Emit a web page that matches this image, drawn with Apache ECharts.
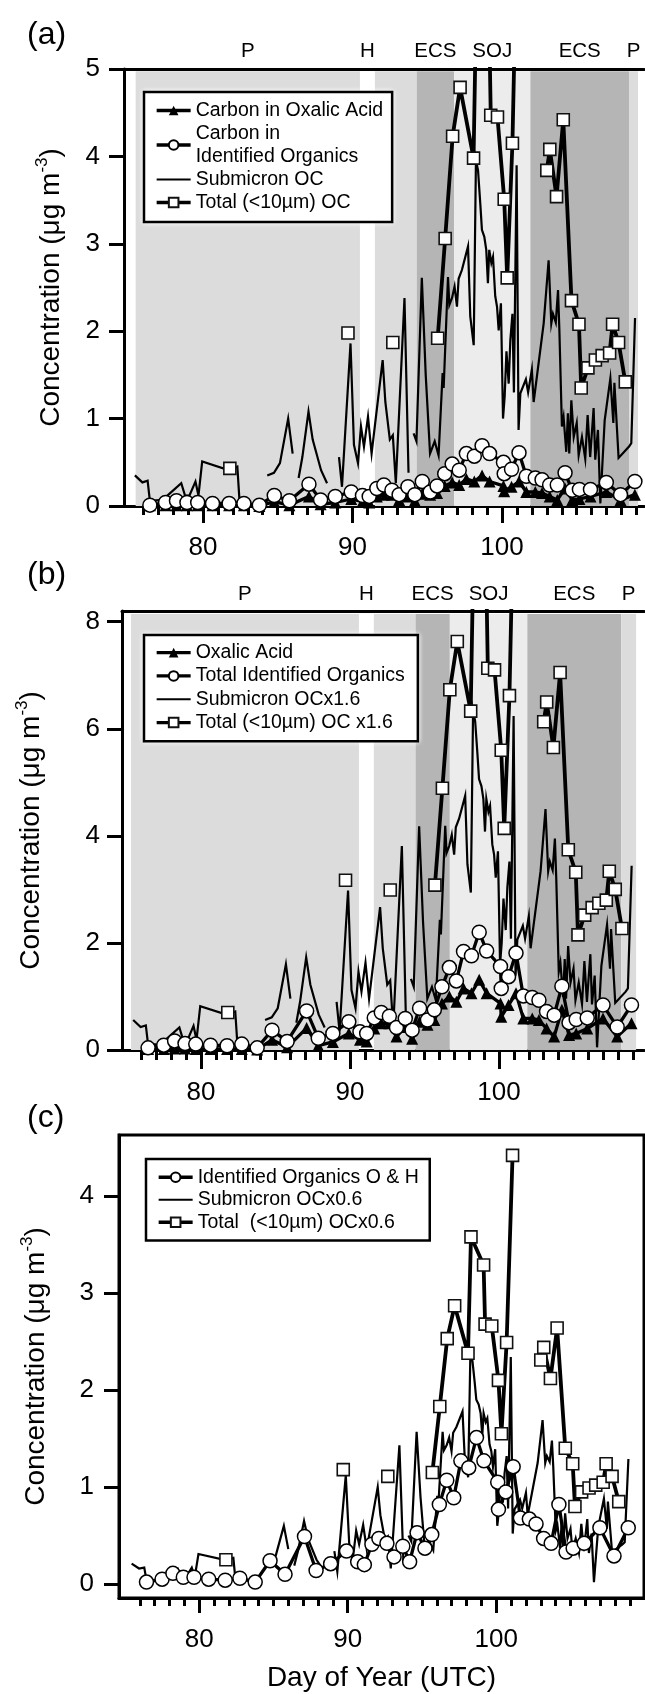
<!DOCTYPE html>
<html><head><meta charset="utf-8">
<script src="https://cdn.jsdelivr.net/npm/echarts@6/dist/echarts.min.js"></script>
<style>html,body{margin:0;padding:0;background:#fff}#c{width:645px;height:1694px}</style>
</head><body><div id="c"></div>
<script>
// ---------------- DATA ----------------
const xMajorTicks = [80, 90, 100];
const xMinorTicks = [76,77,78,79,81,82,83,84,85,86,87,88,89,91,92,93,94,95,96,97,98,99,101,102,103,104,105,106,107,108,109];
const yTicksA = [0,1,2,3,4,5];
const yTicksB = [0,2,4,6,8];
const yTicksC = [0,1,2,3,4];

// ship-track regions
const bandNames = ['P', 'H', '', 'ECS', 'SOJ', 'ECS', 'P'];
const bandKinds = ['pac', 'gap', 'pac', 'ecs', 'soj', 'ecs', 'pac'];
const bandStartA = [75.5, 90.5, 91.5, 94.3, 96.8, 101.9, 108.5];
const bandEndA   = [90.5, 91.5, 94.3, 96.8, 101.9, 108.5, 109.1];
const bandStartB = [75.3, 90.6, 91.6, 94.4, 96.7, 101.9, 108.2];
const bandEndB   = [90.6, 91.6, 94.4, 96.7, 101.9, 108.2, 109.2];

// filter samples (day of year)
const filterDays = [76.45, 77.5, 78.23, 78.93, 79.65, 80.64, 81.75, 82.74, 83.77, 84.77,
  85.78, 87.09, 87.87, 88.85, 89.92, 90.67, 91.12, 91.63, 92.1, 92.64,
  93.12, 93.71, 94.17, 94.67, 95.2, 95.66, 96.17, 96.67, 97.14, 97.62,
  98.15, 98.67, 99.17, 100.1, 100.15, 100.64, 101.14, 101.63, 102.23, 102.68,
  103.19, 103.7, 104.22, 104.7, 105.18, 105.92, 106.98, 107.93, 108.89];
const carbonOxalicA = [0.01,0.01,0.01,0.01,0.01,0.01,0.01,0.01,0.0,0.05,
  0.01,0.11,0.02,0.04,0.08,0.05,0.04,0.11,0.13,0.13,
  0.07,0.11,0.06,0.14,0.13,0.15,0.23,0.27,0.24,0.31,
  0.28,0.35,0.28,0.23,0.17,0.22,0.28,0.16,0.16,0.15,
  0.11,0.07,0.20,0.07,0.08,0.11,0.16,0.07,0.13];
const carbonIdentA = [0.01,0.04,0.06,0.04,0.04,0.03,0.03,0.03,0.01,0.12,
  0.06,0.25,0.07,0.11,0.16,0.12,0.11,0.20,0.24,0.18,
  0.13,0.22,0.13,0.28,0.16,0.23,0.37,0.48,0.41,0.60,
  0.57,0.69,0.60,0.50,0.37,0.42,0.61,0.34,0.32,0.30,
  0.24,0.24,0.38,0.18,0.19,0.19,0.27,0.13,0.28];
const oxalicB = [0.02,0.02,0.03,0.03,0.02,0.02,0.02,0.02,0.01,0.19,
  0.05,0.41,0.08,0.15,0.31,0.19,0.16,0.40,0.50,0.50,
  0.25,0.43,0.21,0.53,0.47,0.56,0.87,1.00,0.90,1.15,
  1.06,1.31,1.06,0.87,0.62,0.84,1.06,0.59,0.59,0.56,
  0.40,0.25,0.75,0.28,0.31,0.40,0.59,0.25,0.50];
const identB = [0.04,0.09,0.17,0.12,0.11,0.09,0.08,0.11,0.04,0.37,
  0.16,0.73,0.22,0.31,0.53,0.34,0.31,0.60,0.70,0.63,
  0.42,0.59,0.37,0.78,0.56,0.75,1.18,1.54,1.29,1.84,
  1.76,2.20,1.85,1.56,1.15,1.37,1.81,1.01,0.98,0.93,
  0.72,0.65,1.19,0.51,0.57,0.60,0.84,0.43,0.84];
const identOHC = [0.02,0.05,0.11,0.07,0.07,0.05,0.04,0.06,0.02,0.24,
  0.10,0.49,0.14,0.21,0.34,0.23,0.20,0.41,0.47,0.42,
  0.28,0.39,0.23,0.53,0.37,0.51,0.82,1.07,0.89,1.27,
  1.20,1.51,1.27,1.05,0.77,0.95,1.21,0.68,0.67,0.62,
  0.47,0.42,0.82,0.33,0.37,0.42,0.58,0.29,0.58];

// total (<10 um) OC samples; null = break in line
const totalDays = [81.8, 85.0, 89.7, 91.0, 92.7, 94.0, 95.7, 96.2, 96.7, 97.2,
  98.1, 98.3, 99.15, 99.25, 99.7, 100.15, 100.35, 100.7, 101.1, 102.0,
  103.0, 103.2, 103.65, 104.1, 104.65, 105.15, 105.3, 105.75, 106.25, 106.7,
  107.2, 107.4, 107.8, 108.25];
const totalOCA = [0.43, null, 1.98, null, 1.87, null, 1.92, 3.06, 4.23, 4.79,
  3.98, 5.97, 5.48, 4.47, 4.45, 3.51, 2.61, 4.15, 7.37, null,
  3.84, 4.08, 3.54, 4.42, 2.35, 2.08, 1.35, 1.58, 1.67, 1.72,
  1.75, 2.08, 1.87, 1.42];
const totalOCB = [0.70, null, 3.17, null, 2.99, null, 3.08, 4.89, 6.73, 7.63,
  6.33, 9.55, 8.77, 7.13, 7.10, 5.60, 4.14, 6.62, 11.8, null,
  6.13, 6.50, 5.65, 7.05, 3.74, 3.32, 2.15, 2.52, 2.66, 2.74,
  2.80, 3.34, 3.00, 2.27];
const totalOCC = [0.25, null, 1.18, null, 1.11, null, 1.15, 1.83, 2.53, 2.87,
  2.38, 3.58, 3.29, 2.68, 2.66, 2.10, 1.55, 2.49, 4.42, null,
  2.31, 2.44, 2.12, 2.64, 1.40, 1.24, 0.80, 0.95, 0.99, 1.02,
  1.05, 1.24, 1.11, 0.85];

// submicron OC (continuous measurement); null = gap
const subDays = [75.45,75.95,76.3,76.45,77.3,78.55,78.8,79.1,79.5,79.7,
  79.95,81.7,82.3,82.45,83.5,84.3,84.75,85.15,85.7,86.0,
  86.2,86.4,86.65,87.06,87.34,87.9,88.3,88.7,89.1,89.3,
  89.87,90.1,90.37,90.57,90.77,91.04,91.28,92.02,92.2,92.3,
  92.5,92.7,92.9,93.48,93.75,93.9,94.09,94.28,94.64,94.9,
  95.19,95.5,95.76,96.03,96.1,96.39,96.48,96.66,96.83,96.99,
  97.1,97.32,97.73,97.88,98.11,98.26,98.4,98.55,98.66,98.82,
  98.95,99.06,99.15,99.29,99.4,99.55,99.67,99.78,99.93,100.07,
  100.18,100.3,100.45,100.56,100.7,100.8,100.98,101.11,101.23,101.6,
  101.75,102.0,102.12,102.79,103.12,103.3,103.41,103.6,103.75,103.84,
  104.01,104.12,104.3,104.41,104.5,104.64,104.8,105.0,105.13,105.35,
  105.57,105.73,105.9,106.13,106.24,106.42,106.58,106.87,107.25,107.45,
  107.52,107.8,108.5,108.65,108.9];
const subOCA = [0.35,0.27,0.29,0.06,0.07,0.26,0.12,0.12,0.28,0.12,
  0.51,0.41,0.45,0.05,null,0.35,0.38,0.49,1.00,0.60,
  null,0.32,0.56,1.08,0.76,0.41,0.26,null,0.56,0.22,
  1.86,0.70,0.49,0.91,0.68,1.02,0.60,1.67,1.19,1.20,
  0.76,0.81,0.26,2.38,0.38,null,0.83,0.74,2.61,1.50,
  0.60,0.74,0.58,1.52,1.35,2.62,2.30,2.38,2.51,2.28,
  2.60,2.70,2.97,2.17,1.84,3.96,3.84,3.46,3.16,3.08,
  2.93,2.55,2.93,2.78,2.85,2.40,2.28,2.01,2.32,1.00,
  1.25,1.77,1.40,1.90,2.20,1.30,3.90,0.87,1.29,1.45,
  1.30,1.56,1.19,2.09,2.81,2.09,2.20,2.10,2.47,2.01,
  0.91,1.02,0.62,1.06,0.60,1.21,0.79,0.95,0.58,0.79,
  0.54,1.04,0.56,1.12,0.53,0.87,0.03,0.98,1.46,0.95,
  1.41,0.55,0.68,0.72,2.15];
const subOCB = [0.56,0.43,0.46,0.10,0.11,0.42,0.19,0.19,0.45,0.19,
  0.82,0.66,0.72,0.08,null,0.56,0.61,0.78,1.60,0.96,
  null,0.51,0.90,1.73,1.22,0.66,0.42,null,0.90,0.35,
  2.98,1.12,0.78,1.46,1.09,1.63,0.96,2.67,1.90,1.92,
  1.22,1.30,0.42,3.81,0.61,null,1.33,1.18,4.18,2.40,
  0.96,1.18,0.93,2.43,2.16,4.19,3.68,3.81,4.02,3.65,
  4.16,4.32,4.75,3.47,2.94,6.34,6.14,5.54,5.06,4.93,
  4.69,4.08,4.69,4.45,4.56,3.84,3.65,3.22,3.71,1.60,
  2.00,2.83,2.24,3.04,3.52,2.08,6.24,1.39,2.06,2.32,
  2.08,2.50,1.90,3.34,4.50,3.34,3.52,3.36,3.95,3.22,
  1.46,1.63,0.99,1.70,0.96,1.94,1.26,1.52,0.93,1.26,
  0.86,1.66,0.90,1.79,0.85,1.39,0.05,1.57,2.34,1.52,
  2.26,0.88,1.09,1.15,3.44];
const subOCC = [0.21,0.16,0.17,0.04,0.04,0.16,0.07,0.07,0.17,0.07,
  0.31,0.25,0.27,0.03,null,0.21,0.23,0.29,0.60,0.36,
  null,0.19,0.34,0.65,0.46,0.25,0.16,null,0.34,0.13,
  1.12,0.42,0.29,0.55,0.41,0.61,0.36,1.00,0.71,0.72,
  0.46,0.49,0.16,1.43,0.23,null,0.50,0.44,1.57,0.90,
  0.36,0.44,0.35,0.91,0.81,1.57,1.38,1.43,1.51,1.37,
  1.56,1.62,1.78,1.30,1.10,2.38,2.30,2.08,1.90,1.85,
  1.76,1.53,1.76,1.67,1.71,1.44,1.37,1.21,1.39,0.60,
  0.75,1.06,0.84,1.14,1.32,0.78,2.34,0.52,0.77,0.87,
  0.78,0.94,0.71,1.25,1.69,1.25,1.32,1.26,1.48,1.21,
  0.55,0.61,0.37,0.64,0.36,0.73,0.47,0.57,0.35,0.47,
  0.32,0.62,0.34,0.67,0.32,0.52,0.02,0.59,0.88,0.57,
  0.85,0.33,0.41,0.43,1.29];

// ---------------- STYLE / BUILD ----------------
const FONT = '"Liberation Sans", Arial, Helvetica, sans-serif';
const BLACK = '#000';
const bandColor = {pac: '#dcdcdc', gap: 'rgba(255,255,255,0)', ecs: '#b5b5b5', soj: '#ececec'};

function pairs(days, vals) {
  return days.map((d, i) => [d, vals[i] == null ? '-' : vals[i]]);
}
function bands(starts, ends, top) {
  return starts.map((s, i) => [
    {name: bandNames[i], xAxis: s, yAxis: 0, itemStyle: {color: bandColor[bandKinds[i]]}},
    {xAxis: ends[i], yAxis: top}
  ]);
}
const grids = [
  {left: 124, top: 69, width: 520, height: 437},
  {left: 122, top: 611, width: 522, height: 439},
  {left: 119, top: 1135, width: 525, height: 463}
];
const xRange = [[74.72, 109.5], [74.7, 109.73], [74.6, 109.95]];
const yRange = [[0, 5], [0, 8.2], [-0.144, 4.63]];
const yTicks = [yTicksA, yTicksB, yTicksC];
const yLabMargin = [24, 22, 25];
const yNameGap = [55, 73, 65];
const xLabMargin = [29, 30, 29];
const majorLen = [17, 19, 15];
const minorLen = [9, 10, 8];

const gridOpt = [];
const xAxisOpt = [];
const yAxisOpt = [];
for (let g = 0; g < 3; g++) {
  gridOpt.push(Object.assign({containLabel: false}, grids[g], g === 2 ? {show: true, borderColor: BLACK, borderWidth: 3} : {}));
}
for (let g = 0; g < 3; g++) gridOpt.push(Object.assign({containLabel: false}, grids[g]));

for (let g = 0; g < 3; g++) {
  const ax = {
    gridIndex: g, type: 'value', min: xRange[g][0], max: xRange[g][1], position: 'bottom',
    axisLine: {show: true, onZero: false, lineStyle: {color: BLACK, width: 3}},
    axisTick: {show: true, customValues: xMajorTicks, length: majorLen[g], lineStyle: {color: BLACK, width: 3}},
    axisLabel: {show: true, customValues: xMajorTicks, margin: xLabMargin[g], fontSize: 26, color: BLACK, fontFamily: FONT},
    splitLine: {show: false}
  };
  if (g === 2) {
    ax.name = 'Day of Year (UTC)';
    ax.nameLocation = 'middle';
    ax.nameGap = 66;
    ax.nameTextStyle = {fontSize: 28, color: BLACK, fontFamily: FONT};
  }
  xAxisOpt.push(ax);
}
for (let g = 0; g < 3; g++) {
  xAxisOpt.push({
    gridIndex: 3 + g, type: 'value', min: xRange[g][0], max: xRange[g][1], position: 'bottom',
    axisLine: {show: false, onZero: false},
    axisTick: {show: true, customValues: xMinorTicks, length: minorLen[g], lineStyle: {color: BLACK, width: 3}},
    axisLabel: {show: false}, splitLine: {show: false}
  });
}
for (let g = 0; g < 2; g++) {
  xAxisOpt.push({
    gridIndex: 3 + g, type: 'value', min: xRange[g][0], max: xRange[g][1], position: 'top',
    axisLine: {show: true, onZero: false, lineStyle: {color: BLACK, width: 3}},
    axisTick: {show: false}, axisLabel: {show: false}, splitLine: {show: false}
  });
}
for (let g = 0; g < 3; g++) {
  yAxisOpt.push({
    gridIndex: g, type: 'value', min: yRange[g][0], max: yRange[g][1], position: 'left',
    axisLine: {show: true, onZero: false, lineStyle: {color: BLACK, width: 3}},
    axisTick: {show: true, customValues: yTicks[g], length: 15, lineStyle: {color: BLACK, width: 3}},
    axisLabel: {show: true, customValues: yTicks[g], margin: yLabMargin[g], fontSize: 26, color: BLACK, fontFamily: FONT},
    splitLine: {show: false},
    name: 'Concentration (\u03bcg m{sup|-3})',
    nameLocation: 'middle', nameGap: yNameGap[g], nameRotate: 90,
    nameTextStyle: {fontSize: 28, color: BLACK, fontFamily: FONT,
      rich: {sup: {fontSize: 17, color: BLACK, fontFamily: FONT, padding: [0, 0, 18, 0]}}}
  });
}
for (let g = 0; g < 3; g++) {
  yAxisOpt.push({gridIndex: 3 + g, type: 'value', min: yRange[g][0], max: yRange[g][1], show: false});
}

const common = {type: 'line', animation: false, silent: true, emphasis: {disabled: true}, clip: true};
function subLine(name, g, vals) {
  return Object.assign({}, common, {name, xAxisIndex: g, yAxisIndex: g, z: 3,
    data: pairs(subDays, vals), symbol: 'none',
    itemStyle: {color: 'rgba(0,0,0,0)', borderWidth: 0},
    lineStyle: {color: BLACK, width: 2.2, join: 'miter'}});
}
function totalLine(name, g, vals) {
  return Object.assign({}, common, {name, xAxisIndex: g, yAxisIndex: g, z: 4,
    data: pairs(totalDays, vals), symbol: 'rect', symbolSize: 12, showAllSymbol: true,
    itemStyle: {color: '#fff', borderColor: '#111', borderWidth: 1.6},
    lineStyle: {color: BLACK, width: 3.8}});
}
function triLine(name, g, vals) {
  return Object.assign({}, common, {name, xAxisIndex: g, yAxisIndex: g, z: 5,
    data: pairs(filterDays, vals), symbol: 'triangle', symbolSize: 12, showAllSymbol: true,
    itemStyle: {color: BLACK, borderColor: BLACK, borderWidth: 0},
    lineStyle: {color: BLACK, width: 3.3}});
}
function circLine(name, g, vals) {
  return Object.assign({}, common, {name, xAxisIndex: g, yAxisIndex: g, z: 6,
    data: pairs(filterDays, vals), symbol: 'circle', symbolSize: 14, showAllSymbol: true,
    itemStyle: {color: '#fff', borderColor: BLACK, borderWidth: 1.5},
    lineStyle: {color: BLACK, width: 3.3}});
}
function bandSeries(g, starts, ends, top) {
  return Object.assign({}, common, {name: 'regions' + g, xAxisIndex: g, yAxisIndex: g, z: 1, data: [],
    markArea: {silent: true,
      label: {show: true, position: 'top', distance: 9, color: BLACK, fontSize: 20.5, fontFamily: FONT},
      data: bands(starts, ends, top)}});
}

const series = [
  bandSeries(0, bandStartA, bandEndA, 4.975),
  subLine('Submicron OC', 0, subOCA),
  totalLine('Total (<10\u00b5m) OC', 0, totalOCA),
  triLine('Carbon in Oxalic Acid', 0, carbonOxalicA),
  circLine('Carbon in Identified Organics', 0, carbonIdentA),

  bandSeries(1, bandStartB, bandEndB, 8.145),
  subLine('Submicron OCx1.6', 1, subOCB),
  totalLine('Total (<10\u00b5m) OC x1.6', 1, totalOCB),
  triLine('Oxalic Acid', 1, oxalicB),
  circLine('Total Identified Organics', 1, identB),

  subLine('Submicron OCx0.6', 2, subOCC),
  totalLine('Total  (<10\u00b5m) OCx0.6', 2, totalOCC),
  circLine('Identified Organics O & H', 2, identOHC)
];

function thickItem(name) {
  return {name, lineStyle: {color: BLACK, width: 3.3}};
}
function thinItem(name) {
  return {name, itemStyle: {color: 'rgba(0,0,0,0)', borderColor: 'rgba(0,0,0,0)', borderWidth: 0, opacity: 0},
    lineStyle: {color: BLACK, width: 2.2}};
}
const legendBase = {orient: 'vertical', itemGap: 0, itemWidth: 34, itemHeight: 12,
  backgroundColor: '#fff', borderColor: BLACK, borderWidth: 2.5, borderRadius: 0,
  shadowColor: '#ffffff', shadowBlur: 5,
  selectedMode: false, inactiveColor: BLACK};
const legends = [
  Object.assign({}, legendBase, {left: 144, top: 92, padding: [7, 9, 8, 11],
    textStyle: {fontSize: 19.5, lineHeight: 23, color: BLACK, fontFamily: FONT},
    data: [thickItem('Carbon in Oxalic Acid'), thickItem('Carbon in Identified Organics'),
           thinItem('Submicron OC'), thickItem('Total (<10\u00b5m) OC')],
    formatter: n => n === 'Carbon in Identified Organics' ? 'Carbon in\nIdentified Organics' : n}),
  Object.assign({}, legendBase, {left: 144, top: 635, padding: [6, 13, 7, 11],
    textStyle: {fontSize: 19.5, lineHeight: 23.3, color: BLACK, fontFamily: FONT},
    data: [thickItem('Oxalic Acid'), thickItem('Total Identified Organics'),
           thinItem('Submicron OCx1.6'), thickItem('Total (<10\u00b5m) OC x1.6')]}),
  Object.assign({}, legendBase, {left: 146, top: 1159, padding: [7, 11, 7, 11],
    textStyle: {fontSize: 19.5, lineHeight: 22.5, color: BLACK, fontFamily: FONT},
    data: [thickItem('Identified Organics O & H'), thinItem('Submicron OCx0.6'),
           thickItem('Total  (<10\u00b5m) OCx0.6')]})
];

const titles = [['(a)', 19], ['(b)', 559], ['(c)', 1102]].map(t => ({
  text: t[0], left: 27, top: t[1], padding: 0,
  textStyle: {fontSize: 32, fontWeight: 'normal', color: BLACK, fontFamily: FONT}
}));

const chart = echarts.init(document.getElementById('c'), null, {renderer: 'canvas'});
chart.setOption({
  animation: false,
  backgroundColor: '#fff',
  textStyle: {fontFamily: FONT, color: BLACK},
  title: titles,
  legend: legends,
  grid: gridOpt,
  xAxis: xAxisOpt,
  yAxis: yAxisOpt,
  series: series
});
</script></body></html>
